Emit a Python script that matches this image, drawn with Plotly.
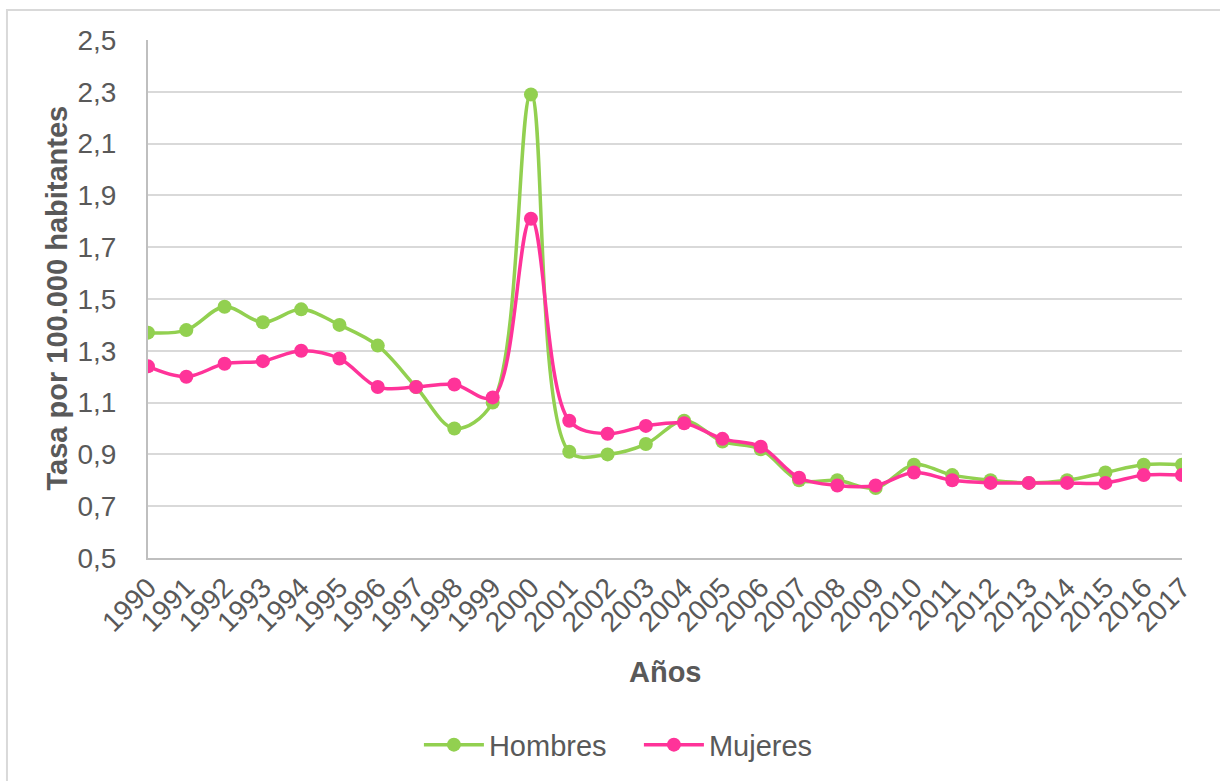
import plotly.graph_objects as go

# Años de la serie
years = list(range(1990, 2018))

# Tasa por 100.000 habitantes
hombres = [1.37, 1.38, 1.47, 1.41, 1.46, 1.40, 1.32, 1.16, 1.00, 1.10,
           2.29, 0.91, 0.90, 0.94, 1.03, 0.95, 0.92, 0.80, 0.80, 0.77,
           0.86, 0.82, 0.80, 0.79, 0.80, 0.83, 0.86, 0.86]
mujeres = [1.24, 1.20, 1.25, 1.26, 1.30, 1.27, 1.16, 1.16, 1.17, 1.12,
           1.81, 1.03, 0.98, 1.01, 1.02, 0.96, 0.93, 0.81, 0.78, 0.78,
           0.83, 0.80, 0.79, 0.79, 0.79, 0.79, 0.82, 0.82]

y_ticks = [0.5, 0.7, 0.9, 1.1, 1.3, 1.5, 1.7, 1.9, 2.1, 2.3, 2.5]

GREEN = "#92D050"
PINK = "#FF3399"
TEXT = "#595959"
FONT = "Liberation Sans, Arial, sans-serif"

fig = go.Figure()
fig.add_trace(go.Scatter(
    x=years, y=hombres, name="Hombres", mode="lines+markers",
    line=dict(color=GREEN, width=3.5, shape="spline", smoothing=1.0),
    marker=dict(color=GREEN, size=14),
))
fig.add_trace(go.Scatter(
    x=years, y=mujeres, name="Mujeres", mode="lines+markers",
    line=dict(color=PINK, width=3.5, shape="spline", smoothing=1.0),
    marker=dict(color=PINK, size=14),
))

fig.update_layout(
    width=1220, height=781,
    margin=dict(l=148, r=38, t=40, b=222, pad=0),
    paper_bgcolor="white", plot_bgcolor="white",
    separators=",.",
    font=dict(family=FONT, color=TEXT, size=28),
    showlegend=True,
    legend=dict(
        orientation="h", x=0.262, xanchor="left", y=-0.358, yanchor="middle",
        font=dict(size=29, color=TEXT), itemwidth=60,
        entrywidth=145, entrywidthmode="pixels",
        traceorder="normal",
    ),
    xaxis=dict(
        range=[1990, 2017], tickmode="array", tickvals=years,
        ticktext=[str(y) for y in years], tickangle=-45,
        showgrid=False, zeroline=False,
        showline=True, linecolor="#BFBFBF", linewidth=2,
        ticks="", tickfont=dict(size=28, color=TEXT),
    ),
    yaxis=dict(
        range=[0.5, 2.5], tickmode="array", tickvals=y_ticks,
        tickformat=".1f", showgrid=True, gridcolor="#D9D9D9", gridwidth=2,
        zeroline=False, showline=True, linecolor="#BFBFBF", linewidth=2,
        ticks="", ticklabelstandoff=24, tickfont=dict(size=28, color=TEXT),
    ),
    annotations=[
        dict(text="<b>Tasa por 100.000 habitantes</b>", textangle=-90,
             xref="paper", yref="paper", x=-0.088, y=0.501,
             xanchor="center", yanchor="middle", showarrow=False,
             font=dict(size=29, color=TEXT, family=FONT)),
        dict(text="<b>Años</b>",
             xref="paper", yref="paper", x=0.5, y=-0.2197,
             xanchor="center", yanchor="middle", showarrow=False,
             font=dict(size=29, color=TEXT, family=FONT)),
    ],
    shapes=[
        dict(type="rect", xref="paper", yref="paper",
             x0=-0.1364, y0=-0.6, x1=1.2, y1=1.0578,
             line=dict(color="#D9D9D9", width=2), layer="below"),
    ],
)

fig.write_html("out.html")
